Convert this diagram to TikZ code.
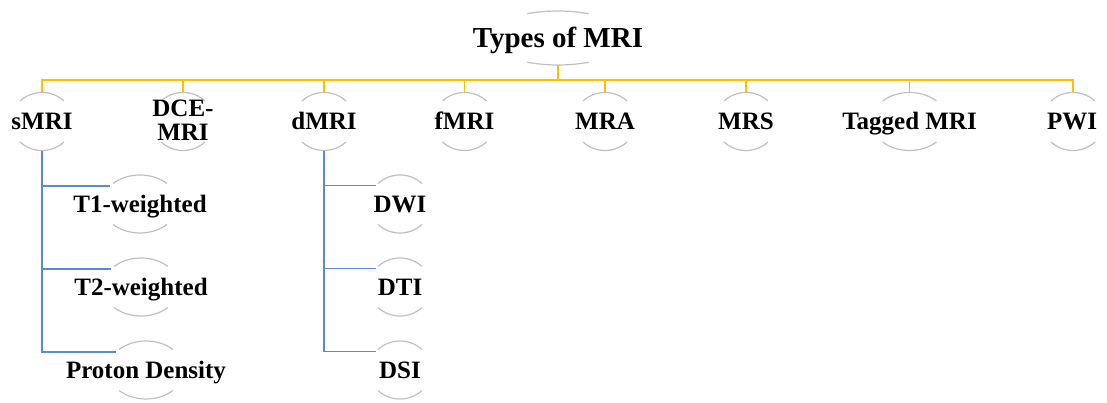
\documentclass[tikz,border=0pt]{standalone}
\usepackage{fontspec}
\setmainfont{Liberation Serif}
\usetikzlibrary{shapes.geometric}
\definecolor{yel}{RGB}{255,192,0}
\definecolor{blu}{RGB}{95,135,215}
\definecolor{arcgray}{RGB}{192,192,192}
\newcommand\capsarc[4]{%
  \pgfmathsetmacro\myEndA{180-#4}%
  \pgfmathsetmacro\myStartB{180+#4}%
  \pgfmathsetmacro\myEndB{360-#4}%
  \draw[arcst] ([shift={(#4:#2 and #3)}]#1.center) arc[start angle=#4,end angle=\myEndA,x radius=#2,y radius=#3];
  \draw[arcst] ([shift={(\myStartB:#2 and #3)}]#1.center) arc[start angle=\myStartB,end angle=\myEndB,x radius=#2,y radius=#3];}
\tikzset{
  shp/.style={ellipse, draw=none, inner sep=0pt, minimum width=62pt, minimum height=58pt},
  wide/.style={minimum width=76pt},
  arcst/.style={draw=arcgray, line width=1.2pt},
  lbl/.style={inner sep=0pt, font=\fontsize{25}{24}\selectfont\bfseries, anchor=base},
  ttl/.style={inner sep=0pt, font=\fontsize{29}{30}\selectfont\bfseries, anchor=base},
  yline/.style={draw=yel, line width=1.3pt},
  bline/.style={draw=blu, line width=1.3pt},
}
\begin{document}
\begin{tikzpicture}[x=1pt,y=1pt]
\useasboundingbox (0,0) rectangle (1107,403);
% shapes
\node[shp, minimum width=140pt, minimum height=54pt] (title) at (558,365) {};
\node[shp] (smri) at (42,281.5) {};
\node[shp] (dce) at (183,281.5) {};
\node[shp] (dmri) at (324,281.5) {};
\node[shp] (fmri) at (464.5,281.5) {};
\node[shp] (mra) at (605,281.5) {};
\node[shp] (mrs) at (746,281.5) {};
\node[shp, wide] (tag) at (909.5,281.5) {};
\node[shp] (pwi) at (1073,281.5) {};
\node[shp, wide] (t1) at (140,199) {};
\node[shp, wide] (t2) at (141,116) {};
\node[shp, wide] (pd) at (146,33) {};
\node[shp] (dwi) at (400,199) {};
\node[shp] (dti) at (400,116) {};
\node[shp] (dsi) at (400,33) {};
% arcs
\capsarc{title}{70pt}{27pt}{64}
\foreach \n in {smri,dce,dmri,fmri,mra,mrs,pwi,dwi,dti,dsi} {\capsarc{\n}{31pt}{29pt}{45}}
\foreach \n in {tag,t1,t2,pd} {\capsarc{\n}{38pt}{29pt}{45}}
% texts
\node[ttl] (title-t) at ([yshift=-9.6pt]title.center) {Types of MRI};
\node[lbl] (smri-t) at ([yshift=-8.3pt]smri.center) {sMRI};
\node[inner sep=0pt, font=\fontsize{25}{24}\selectfont\bfseries, align=center] (dce-t) at ([yshift=1.5pt]dce.center) {DCE-\\MRI};
\node[lbl] (dmri-t) at ([yshift=-8.3pt]dmri.center) {dMRI};
\node[lbl] (fmri-t) at ([yshift=-8.3pt]fmri.center) {fMRI};
\node[lbl] (mra-t) at ([yshift=-8.3pt]mra.center) {MRA};
\node[lbl] (mrs-t) at ([yshift=-8.3pt]mrs.center) {MRS};
\node[lbl] (tag-t) at ([yshift=-8.3pt]tag.center) {Tagged MRI};
\node[lbl] (pwi-t) at ([yshift=-8.3pt,xshift=-1pt]pwi.center) {PWI};
\node[lbl] (t1-t) at ([yshift=-8.3pt]t1.center) {T1-weighted};
\node[lbl] (t2-t) at ([yshift=-8.3pt]t2.center) {T2-weighted};
\node[lbl] (pd-t) at ([yshift=-8.3pt]pd.center) {Proton Density};
\node[lbl] (dwi-t) at ([yshift=-8.3pt]dwi.center) {DWI};
\node[lbl] (dti-t) at ([yshift=-8.3pt]dti.center) {DTI};
\node[lbl] (dsi-t) at ([yshift=-8.3pt]dsi.center) {DSI};
% yellow connectors
\coordinate (bus) at (0,323);
\foreach \n in {smri,dce,dmri,fmri,mra,mrs,tag,pwi} {
  \draw[yline] (title.south) |- (\n.north |- bus) -- (\n.north);
}
% blue connectors
\foreach \n in {t1,t2,pd} {\draw[bline] (smri.south) |- (\n.149);}
\foreach \n in {dwi,dti,dsi} {\draw[bline] (dmri.south) |- (\n.143.5);}
\end{tikzpicture}
\end{document}
